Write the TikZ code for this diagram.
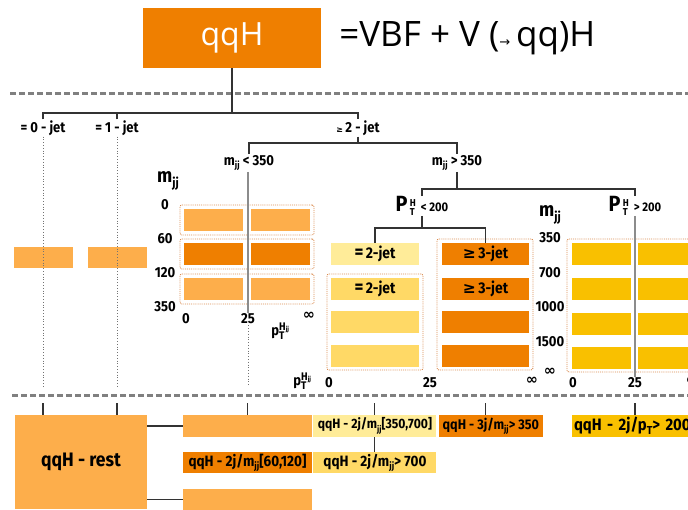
\documentclass[tikz,border=0pt]{standalone}
\usepackage{fontspec}
\usepackage{graphicx}
\setmainfont{Open Sans}
\newfontfamily\cond[FakeStretch=0.9]{Fira Sans}
\newfontfamily\sym{DejaVu Sans}
\usepackage{tikz}
\usetikzlibrary{positioning}
\usetikzlibrary{calc}

\definecolor{qqorange}{HTML}{EF7F00}
\definecolor{lightor}{HTML}{FDAE4B}
\definecolor{paleyel}{HTML}{FFEC99}
\definecolor{midyel}{HTML}{FFD966}
\definecolor{cutgold}{HTML}{F9C000}
\definecolor{cellframe}{HTML}{D98A4E}

\tikzstyle{head} = [rectangle, fill=qqorange, text=white, minimum width=178pt, minimum height=60pt, font=\fontsize{32}{32}\selectfont]
\tikzstyle{bar} = [rectangle, inner sep=0pt, minimum height=22pt, minimum width=59pt]
\tikzstyle{cell} = [draw=cellframe, densely dotted, line width=0.9pt, rounded corners=2pt]
\tikzstyle{lbl} = [inner sep=1pt, font=\cond\bfseries\fontsize{14.5}{14.5}\selectfont]
\tikzstyle{cat} = [rectangle, inner sep=1pt, minimum height=22pt, font=\cond\bfseries\fontsize{15}{15}\selectfont]
\tikzstyle{tree} = [draw=black!80, line width=1.1pt]
\tikzstyle{guide} = [draw=black!45, line width=2pt]
\tikzstyle{dots} = [draw=black!55, dotted, line width=0.8pt]
\tikzstyle{cut} = [draw=black!50, line width=3pt, dash pattern=on 6pt off 3pt]

\newcommand\mjj{m\raisebox{-0.45ex}{\scalebox{0.65}{jj}}}
\newcommand\hstack[2]{\rlap{\raisebox{5pt}{#1}}\raisebox{-4pt}{#2}}
\newcommand\ptcut[1]{{\fontsize{22}{22}\selectfont P}\,{\fontsize{10}{10}\selectfont\hstack{H}{T}\hspace{6pt}\fontsize{12.5}{12.5}\selectfont #1}}
\newcommand\ptjj{p{\fontsize{11}{11}\selectfont\hstack{H\raisebox{-1.5pt}{\scalebox{0.6}{jj}}}{T}}\hspace{4pt}}
\newcommand\infsym{{\sym\bfseries ∞}}
\newcommand\bigeq{{\fontsize{19}{19}\selectfont =}}

\begin{document}
\begin{tikzpicture}[x=1pt,y=-1pt]
    \useasboundingbox (0,0) rectangle (688,509);

    % cut lines
    \coordinate (cutTL) at (10,93);
    \coordinate (cutTR) at (688,93);
    \coordinate (cutBL) at (12,395);
    \coordinate (cutBR) at (688,395);
    \coordinate (tickrow) at (0,403);
    \draw[cut] (cutTL) -- (cutTR);
    \draw[cut] (cutBL) -- (cutBR);

    % header
    \node[head] (hdr) at (232,38) {qqH};
    \node[right=18pt of hdr, inner sep=0pt, font=\fontsize{35}{35}\selectfont] (vbf) {=VBF + V ({\sym\fontsize{13}{13}\selectfont →}\,qq)H};

    % jet bins
    \coordinate (split) at (232,113);
    \node[lbl] (jet0) at (43,128) {= 0 - jet};
    \node[lbl] (jet1) at (117,128) {= 1 - jet};
    \node[lbl] (jet2) at (358,128) {{\sym\fontsize{8}{8}\selectfont ≥}\,2 - jet};
    \draw[tree] (hdr.south) -- (split);
    \draw[tree] (jet0.north) |- (split) -| (jet2.north);
    \draw[tree] (jet1.north) -- (jet1.north |- split);

    \coordinate (fork2) at (358,143);
    \node[lbl] (mlo) at (249,163) {\mjj\ < 350};
    \node[lbl] (mhi) at (457,163) {\mjj\ > 350};
    \draw[tree] (jet2.south) -- (fork2);
    \draw[tree] (mlo.north) |- (fork2) -| (mhi.north);

    \coordinate (fork3) at (457,189);
    \node[lbl, inner sep=0pt] (ptlo) at (422,206) {\ptcut{< 200}};
    \node[lbl, inner sep=0pt] (pthi) at (635,206) {\ptcut{> 200}};
    \draw[tree] (mhi.south) -- (fork3);
    \draw[tree] (ptlo.north) |- (fork3) -| (pthi.north);

    % 0-jet and 1-jet
    \node[bar, fill=lightor, minimum height=21pt] (b0) at (43.5,257.5) {};
    \node[bar, fill=lightor, minimum height=21pt] (b1) at (117.5,257.5) {};

    % mjj < 350 grid
    \node[lbl, font=\cond\bfseries\fontsize{20}{20}\selectfont] (mjjlo) at (168,181) {\mjj};
    \foreach \y/\v in {205/0,239/60,273/120,307/350}
        \node[lbl] (lo\v) at (165,\y) {\v};
    \foreach \y/\c [count=\i] in {220/lightor,254/qqorange,289/lightor} {
        \node[cell, minimum width=134pt, minimum height=30pt] (locell\i) at (247,\y) {};
        \node[bar, fill=\c] (loa\i) at (213.5,\y) {};
        \node[bar, fill=\c] (lob\i) at (280.5,\y) {};
    }
    \node[lbl] (lox0) at (186,319) {0};
    \node[lbl] (lo25) at (248,319) {25};
    \node[lbl] (loinf) at (309,316) {\infsym};
    \node[lbl] (loptjj) at (278,331) {\ptjj};

    % mjj > 350, pT < 200
    \coordinate (fork4) at (422,228);
    \node[cell, minimum width=96pt, minimum height=96pt] (twocell) at (375,322) {};
    \node[cell, minimum width=96pt, minimum height=131pt] (threecell) at (485,304.5) {};
    \node[bar, fill=paleyel, minimum width=88pt, font=\cond\bfseries\fontsize{15.5}{15.5}\selectfont] (twoj) at (375,254) {\bigeq\,2-jet};
    \node[bar, fill=qqorange, minimum width=87pt, font=\cond\bfseries\fontsize{15.5}{15.5}\selectfont] (threej) at (485.5,254) {{\sym\bfseries ≥}\,3-jet};
    \draw[tree] (ptlo.south) -- (fork4);
    \draw[tree] (twoj.north) |- (fork4) -| (threej.north);
    \node[bar, fill=midyel, minimum width=88pt, font=\cond\bfseries\fontsize{15.5}{15.5}\selectfont] (twoa) at (375,289) {\bigeq\,2-jet};
    \node[bar, fill=midyel, minimum width=88pt] (twob) at (375,322) {};
    \node[bar, fill=midyel, minimum width=88pt] (twoc) at (375,355.5) {};
    \node[bar, fill=qqorange, minimum width=87pt, font=\cond\bfseries\fontsize{15.5}{15.5}\selectfont] (threea) at (485.5,289) {{\sym\bfseries ≥}\,3-jet};
    \node[bar, fill=qqorange, minimum width=87pt] (threeb) at (485.5,322) {};
    \node[bar, fill=qqorange, minimum width=87pt] (threec) at (485.5,355.5) {};
    \node[lbl] (midptjj) at (300,381) {\ptjj};
    \node[lbl] (midx0) at (329,383) {0};
    \node[lbl] (mid25) at (430,383) {25};
    \node[lbl] (midinf) at (532,381) {\infsym};

    % mjj > 350, pT > 200
    \node[lbl, font=\cond\bfseries\fontsize{20}{20}\selectfont] (mjjhi) at (550,215) {\mjj};
    \foreach \y/\v in {238/350,273/700,307/1000,342/1500}
        \node[lbl] (hi\v) at (550,\y) {\v};
    \node[lbl] (hiinfm) at (550,372) {\infsym};
    \node[cell, minimum width=140pt, minimum height=133pt] (hicell) at (637,305.5) {};
    \foreach \y [count=\i] in {254,289,324,358} {
        \node[bar, fill=cutgold] (hia\i) at (601.5,\y) {};
        \node[bar, fill=cutgold] (hib\i) at (667.5,\y) {};
    }
    \node[lbl] (hix0) at (573,383) {0};
    \node[lbl] (hi25) at (635,383) {25};
    \node[lbl] (hiinf) at (692,381) {\infsym};

    % guides through the grids
    \draw[guide] (mlo.south -| lo25) -- (lo25.north);
    \draw[guide] (pthi.south) -- (hi25.north);
    \draw[dots] (jet0.south) -- (jet0.south |- 0,386);
    \draw[dots] (jet1.south) -- (jet1.south |- 0,386);
    \draw[dots] (lo25.south) -- (lo25.south |- 0,386);

    % categories
    \node[rectangle, fill=lightor, minimum width=132pt, minimum height=94pt, font=\cond\bfseries\fontsize{19.5}{19.5}\selectfont] (rest) at (81,462) {qqH - rest};
    \node[cat, fill=lightor, minimum width=129pt] (box1) at (247.5,426) {};
    \node[cat, fill=qqorange, minimum width=129pt, minimum height=21pt, below=15pt of box1] (box2) {qqH - 2j/\mjj[60,120]};
    \node[cat, fill=lightor, minimum width=129pt, minimum height=21pt, below=15pt of box2] (box3) {};
    \node[cat, fill=paleyel, minimum width=123pt, font=\cond\bfseries\fontsize{13.5}{13.5}\selectfont, right=1pt of box1] (box4) {qqH - 2j/\mjj[350,700]};
    \node[cat, fill=midyel, minimum width=123pt, minimum height=21pt, below=15pt of box4] (box5) {qqH - 2j/\mjj> 700};
    \node[cat, fill=qqorange, minimum width=104pt, font=\cond\bfseries\fontsize{14}{14}\selectfont, right=2pt of box4] (box6) {qqH - 3j/\mjj> 350};
    \node[cat, fill=cutgold, minimum width=128pt, font=\cond\bfseries\fontsize{16.5}{16.5}\selectfont, text width=124pt, align=left] (box7) at (636,426) {qqH - 2j/p\raisebox{-0.4ex}{\scalebox{0.7}{T}}> 200};

    \draw[tree] (rest.north -| jet0) -- (tickrow -| jet0);
    \draw[tree] (rest.north -| jet1) -- (tickrow -| jet1);
    \draw[tree] (box1.north) -- (box1.north |- tickrow);
    \draw[tree] (box4.north) -- (box4.north |- tickrow);
    \draw[tree] (box4.south) -- (box5.north);
    \draw[tree] (box6.north -| threej) -- (tickrow -| threej);
    \draw[tree] (box7.north -| pthi) -- (tickrow -| pthi);
    \draw[tree] (box1.west) -- (box1.west -| rest.east);
    \draw[tree] (box3.west) -- (box3.west -| rest.east);
\end{tikzpicture}
\end{document}
